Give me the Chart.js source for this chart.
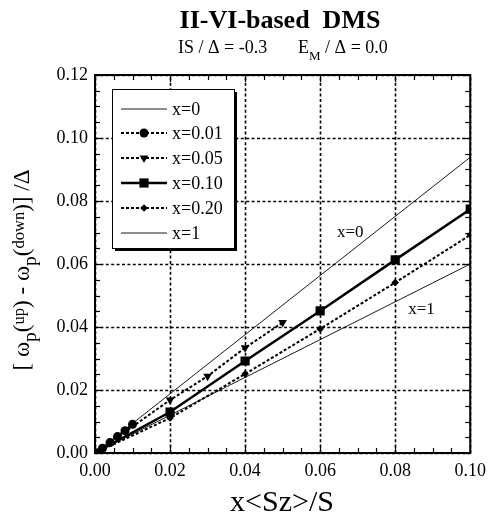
<!DOCTYPE html>
<html><head><meta charset="utf-8">
<script src="https://cdn.jsdelivr.net/npm/chart.js@4/dist/chart.umd.min.js"></script>
<style>html,body{margin:0;padding:0;background:#fff}#wrap{width:493px;height:519px;position:relative}canvas{display:block}</style>
</head><body><div id="wrap"><canvas id="c" width="493" height="519"></canvas></div>
<script>
// ---- data ----
const xTicks = [0, 0.02, 0.04, 0.06, 0.08, 0.10];
const yTicks = [0, 0.02, 0.04, 0.06, 0.08, 0.10, 0.12];
const seriesNames = ['x=0', 'x=0.01', 'x=0.05', 'x=0.10', 'x=0.20', 'x=1'];
const s0X = [0, 0.10];
const s0Y = [0, 0.0939];
const s001X = [0, 0.002, 0.004, 0.006, 0.008, 0.010];
const s001Y = [0, 0.0015, 0.0033, 0.0052, 0.0071, 0.0091];
const s005X = [0, 0.02, 0.03, 0.04, 0.05];
const s005Y = [0, 0.0168, 0.0244, 0.0334, 0.0414];
const s010X = [0, 0.02, 0.04, 0.06, 0.08, 0.10];
const s010Y = [0, 0.0130, 0.0292, 0.0451, 0.0613, 0.0774];
const s020X = [0, 0.02, 0.04, 0.06, 0.08, 0.10];
const s020Y = [0, 0.0111, 0.0251, 0.0394, 0.0541, 0.0692];
const s1X = [0, 0.10];
const s1Y = [0, 0.0600];
const curveLabels = [{text: 'x=0', x: 0.068, y: 0.070}, {text: 'x=1', x: 0.087, y: 0.0455}];

const pts = (xs, ys) => xs.map((x, i) => ({x: x, y: ys[i]}));
const FONT = '"Liberation Serif", "Times New Roman", serif';

const datasets = [
  {label: seriesNames[0], data: pts(s0X, s0Y), borderColor: '#000', borderWidth: 0.9, pointRadius: 0},
  {label: seriesNames[1], data: pts(s001X, s001Y), borderColor: '#000', backgroundColor: '#000', borderWidth: 2, borderDash: [3, 2],
   pointStyle: 'circle', pointRadius: 4.5, pointBorderWidth: 0},
  {label: seriesNames[2], data: pts(s005X, s005Y), borderColor: '#000', backgroundColor: '#000', borderWidth: 2, borderDash: [3, 2],
   pointStyle: 'triangle', rotation: 180, pointRadius: 5, pointBorderWidth: 0},
  {label: seriesNames[3], data: pts(s010X, s010Y), borderColor: '#000', backgroundColor: '#000', borderWidth: 2.5,
   pointStyle: 'rect', pointRadius: 6.5, pointBorderWidth: 0},
  {label: seriesNames[4], data: pts(s020X, s020Y), borderColor: '#000', backgroundColor: '#000', borderWidth: 2, borderDash: [3, 2],
   pointStyle: 'rectRot', pointRadius: 3.8, pointBorderWidth: 0},
  {label: seriesNames[5], data: pts(s1X, s1Y), borderColor: '#000', borderWidth: 0.9, pointRadius: 0}
];
datasets.forEach(d => { d.showLine = true; d.fill = false; d.tension = 0; });

function drawRich(ctx, segs, size, cx, cy, bold) {
  const w = bold ? 'bold ' : '';
  let total = 0;
  const items = segs.map(s => {
    const fs = s.f === 'sup' ? size * 0.72 : (s.f === 'sub' ? size * 0.85 : size);
    ctx.font = w + fs + 'px ' + FONT;
    const wd = ctx.measureText(s.t).width;
    total += wd;
    return {t: s.t, fs: fs, wd: wd, dy: s.f === 'sub' ? size * 0.3 : (s.f === 'sup' ? -size * 0.2 : 0)};
  });
  let x = cx - total / 2;
  ctx.textAlign = 'left';
  ctx.textBaseline = 'alphabetic';
  items.forEach(it => {
    ctx.font = w + it.fs + 'px ' + FONT;
    ctx.fillText(it.t, x, cy + it.dy);
    x += it.wd;
  });
}

const decor = {
  id: 'decor',
  beforeDatasetsDraw(chart) {
    const ctx = chart.ctx, a = chart.chartArea, xs = chart.scales.x, ys = chart.scales.y;
    ctx.save();
    ctx.strokeStyle = '#000';
    ctx.lineWidth = 1.6;
    ctx.setLineDash([3, 2.4]);
    xTicks.forEach(v => {
      const p = Math.round(xs.getPixelForValue(v)) + 0.5;
      ctx.beginPath(); ctx.moveTo(p, a.bottom); ctx.lineTo(p, a.top); ctx.stroke();
    });
    yTicks.forEach(v => {
      const p = Math.round(ys.getPixelForValue(v)) + 0.5;
      ctx.beginPath(); ctx.moveTo(a.left, p); ctx.lineTo(a.right, p); ctx.stroke();
    });
    ctx.restore();
  },
  afterDatasetsDraw(chart) {
    const ctx = chart.ctx, a = chart.chartArea, xs = chart.scales.x, ys = chart.scales.y;
    ctx.save();
    // curve labels
    ctx.fillStyle = '#000';
    ctx.font = '17px ' + FONT;
    ctx.textAlign = 'center'; ctx.textBaseline = 'middle';
    curveLabels.forEach(l => ctx.fillText(l.text, xs.getPixelForValue(l.x), ys.getPixelForValue(l.y)));
    // legend
    const L = 112, T = 89, R = 234, B = 248;
    ctx.fillStyle = '#000';
    ctx.fillRect(L + 3, T + 3, R - L, B - T);
    ctx.fillStyle = '#fff';
    ctx.fillRect(L, T, R - L, B - T);
    ctx.strokeStyle = '#000'; ctx.lineWidth = 1;
    ctx.strokeRect(L + 0.5, T + 0.5, R - L, B - T);
    const rows = [109, 133, 158, 183, 208, 233];
    chart.data.datasets.forEach((d, i) => {
      const y = rows[i];
      ctx.save();
      ctx.strokeStyle = '#000';
      ctx.lineWidth = d.borderWidth;
      ctx.setLineDash(d.borderDash || []);
      ctx.beginPath(); ctx.moveTo(121, y); ctx.lineTo(167, y); ctx.stroke();
      ctx.setLineDash([]);
      if (d.pointRadius > 0) {
        ctx.fillStyle = '#000';
        Chart.helpers.drawPoint(ctx, {pointStyle: d.pointStyle, radius: d.pointRadius, rotation: d.rotation || 0, borderWidth: 0}, 144, y);
      }
      ctx.restore();
      ctx.fillStyle = '#000';
      ctx.font = '18px ' + FONT;
      ctx.textAlign = 'left'; ctx.textBaseline = 'middle';
      ctx.fillText(d.label, 172, y + 1);
    });
    // frame and inward ticks
    ctx.strokeStyle = '#000';
    ctx.setLineDash([]);
    ctx.lineWidth = 1.2;
    for (let v = 0; v <= 0.1000001; v += 0.005) {
      const p = Math.round(xs.getPixelForValue(v)) + 0.5;
      const major = Math.abs(v / 0.02 - Math.round(v / 0.02)) < 1e-6;
      const len = major ? 7 : 5;
      ctx.beginPath(); ctx.moveTo(p, a.bottom); ctx.lineTo(p, a.bottom - len); ctx.stroke();
      ctx.beginPath(); ctx.moveTo(p, a.top); ctx.lineTo(p, a.top + len); ctx.stroke();
    }
    for (let v = 0; v <= 0.1200001; v += 0.005) {
      const p = Math.round(ys.getPixelForValue(v)) + 0.5;
      const major = Math.abs(v / 0.02 - Math.round(v / 0.02)) < 1e-6;
      const len = major ? 7 : 5;
      ctx.beginPath(); ctx.moveTo(a.left, p); ctx.lineTo(a.left + len, p); ctx.stroke();
      ctx.beginPath(); ctx.moveTo(a.right, p); ctx.lineTo(a.right - len, p); ctx.stroke();
    }
    ctx.lineWidth = 2;
    ctx.strokeRect(a.left, a.top, a.right - a.left, a.bottom - a.top);
    ctx.restore();
  },
  afterDraw(chart) {
    const ctx = chart.ctx;
    ctx.save();
    ctx.fillStyle = '#000';
    drawRich(ctx, [{t: 'II-VI-based  DMS'}], 26, 280, 28, true);
    // subtitle
    ctx.font = '18px ' + FONT;
    ctx.textAlign = 'left'; ctx.textBaseline = 'alphabetic';
    ctx.fillText('IS / \u0394 = -0.3', 178, 53);
    let x = 298;
    ctx.fillText('E', x, 53); x += ctx.measureText('E').width;
    ctx.font = '13px ' + FONT;
    ctx.fillText('M', x, 60); x += ctx.measureText('M').width;
    ctx.font = '18px ' + FONT;
    ctx.fillText(' / \u0394 = 0.0', x, 53);
    // x title
    drawRich(ctx, [{t: 'x<Sz>/S'}], 30, 282, 511, false);
    // y title
    ctx.translate(29, 270);
    ctx.rotate(-Math.PI / 2);
    drawRich(ctx, [
      {t: '[ \u03c9'}, {t: 'p', f: 'sub'}, {t: '('}, {t: 'up', f: 'sup'}, {t: ')'},
      {t: ' - \u03c9'}, {t: 'p', f: 'sub'}, {t: '('}, {t: 'down', f: 'sup'}, {t: ')] /\u0394'}
    ], 23, 0, 0, false);
    ctx.restore();
  }
};

new Chart(document.getElementById('c'), {
  type: 'scatter',
  data: {datasets: datasets},
  options: {
    responsive: false, animation: false, devicePixelRatio: 1,
    layout: {padding: {left: 0, right: 20, top: 75, bottom: 0}},
    plugins: {legend: {display: false}, tooltip: {enabled: false}},
    scales: {
      x: {
        type: 'linear', min: 0, max: 0.1,
        afterBuildTicks: s => { s.ticks = xTicks.map(v => ({value: v})); },
        afterFit: s => { s.height = 66; },
        grid: {display: false, drawTicks: false}, border: {display: false},
        ticks: {padding: 7, color: '#000', font: {family: FONT, size: 18}, maxRotation: 0, callback: v => v.toFixed(2)}
      },
      y: {
        type: 'linear', min: 0, max: 0.12,
        afterBuildTicks: s => { s.ticks = yTicks.map(v => ({value: v})); },
        afterFit: s => { s.width = 95; },
        grid: {display: false, drawTicks: false}, border: {display: false},
        ticks: {padding: 7, color: '#000', font: {family: FONT, size: 18}, callback: v => v.toFixed(2)}
      }
    }
  },
  plugins: [decor]
});
</script></body></html>
